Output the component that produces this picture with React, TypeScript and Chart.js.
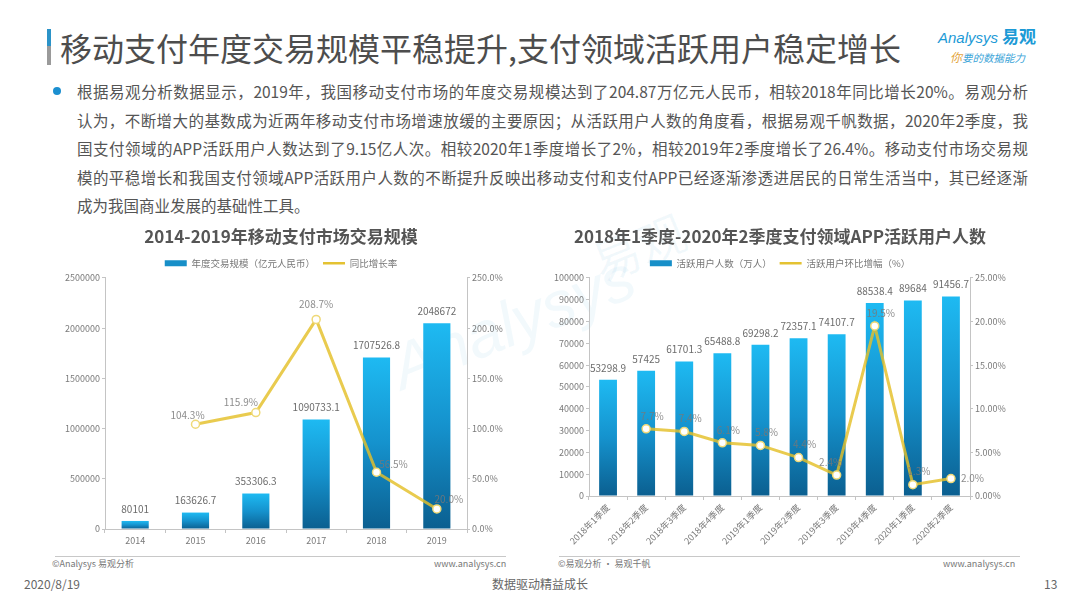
import React, { useEffect, useRef } from "react";
import { Chart, registerables } from "chart.js";

Chart.register(...registerables);

// ---- data: annual mobile payment volume ----
const years = ["2014", "2015", "2016", "2017", "2018", "2019"];
const volume = [80101, 163626.7, 353306.3, 1090733.1, 1707526.8, 2048672];
const volumeGrowth = [null, 104.3, 115.9, 208.7, 56.5, 20.0];

// ---- data: quarterly active users of payment apps ----
const quarters = [
  "2018年1季度",
  "2018年2季度",
  "2018年3季度",
  "2018年4季度",
  "2019年1季度",
  "2019年2季度",
  "2019年3季度",
  "2019年4季度",
  "2020年1季度",
  "2020年2季度",
];
const activeUsers = [53298.9, 57425, 61701.3, 65488.8, 69298.2, 72357.1, 74107.7, 88538.4, 89684, 91456.7];
const userGrowth = [null, 7.7, 7.4, 6.1, 5.8, 4.4, 2.4, 19.5, 1.3, 2.0];

// ---- axis ticks ----
const volumeAxis = { max: 2500000, step: 500000 };
const volumeGrowthAxis = { max: 250, step: 50 };
const usersAxis = { max: 100000, step: 10000 };
const userGrowthAxis = { max: 25, step: 5 };

const FONT = '"Noto Sans CJK SC", "Noto Sans", sans-serif';
const AXIS = "#c4c4c4";
const TICK = "#7a7a7a";
const LINE = "rgba(228, 192, 40, 0.82)";
const LEGEND_BAR = "#178fc8";

// vertical gradient for each bar, from its top down to the baseline
function barGradient(ctx: any) {
  const chart = ctx.chart;
  const scale = chart.scales && chart.scales.y;
  if (!scale || ctx.raw == null) return LEGEND_BAR;
  const top = scale.getPixelForValue(ctx.raw);
  const bottom = scale.getPixelForValue(0);
  if (!isFinite(top) || !isFinite(bottom) || bottom - top < 1) return LEGEND_BAR;
  const g = chart.ctx.createLinearGradient(0, top, 0, bottom);
  g.addColorStop(0, "#1ebaf2");
  g.addColorStop(0.5, "#1592cd");
  g.addColorStop(1, "#0b5f90");
  return g;
}

type Offset = (i: number) => [number, number, CanvasTextAlign];

// draws value labels above bars and next to line points
function makeValueLabels(barFmt: (v: number) => string, lineFmt: (v: number) => string, lineOffset: Offset) {
  return {
    id: "valueLabels",
    afterDatasetsDraw(chart: any) {
      const ctx = chart.ctx;
      ctx.save();
      ctx.textBaseline = "middle";
      chart.data.datasets.forEach((ds: any, di: number) => {
        const meta = chart.getDatasetMeta(di);
        meta.data.forEach((el: any, i: number) => {
          const v = ds.data[i];
          if (v == null) return;
          if (ds.type === "bar") {
            ctx.font = `10px ${FONT}`;
            ctx.fillStyle = "#6c6c6c";
            ctx.textAlign = "center";
            ctx.fillText(barFmt(v), el.x, el.y - 12);
          } else {
            const [dx, dy, align] = lineOffset(i);
            ctx.font = `10px ${FONT}`;
            ctx.fillStyle = "rgba(120,120,120,0.85)";
            ctx.textAlign = align;
            ctx.fillText(lineFmt(v), el.x + dx, el.y + dy);
          }
        });
      });
      ctx.restore();
    },
  };
}

function legendItems(barText: string, lineText: string) {
  return () => [
    {
      text: barText,
      fillStyle: LEGEND_BAR,
      strokeStyle: LEGEND_BAR,
      lineWidth: 0,
      pointStyle: "rect",
      datasetIndex: 0,
      hidden: false,
      fontColor: "#777",
    },
    {
      text: lineText,
      fillStyle: LINE,
      strokeStyle: "#e4c232",
      lineWidth: 2.5,
      pointStyle: "line",
      datasetIndex: 1,
      hidden: false,
      fontColor: "#777",
    },
  ];
}

function buildConfig(opts: {
  title: string;
  labels: string[];
  bars: number[];
  line: (number | null)[];
  barLabel: string;
  lineLabel: string;
  leftAxis: { max: number; step: number };
  rightAxis: { max: number; step: number };
  rightFmt: (v: number) => string;
  leftWidth: number;
  rightWidth: number;
  xHeight: number;
  rotate: number;
  categoryPercentage: number;
  plugin: any;
}) {
  const tickFont = { family: FONT, size: 9 };
  return {
    type: "bar",
    data: {
      labels: opts.labels,
      datasets: [
        {
          type: "bar",
          label: opts.barLabel,
          data: opts.bars,
          yAxisID: "y",
          backgroundColor: barGradient,
          barPercentage: 0.9,
          categoryPercentage: opts.categoryPercentage,
          order: 2,
        },
        {
          type: "line",
          label: opts.lineLabel,
          data: opts.line,
          yAxisID: "y1",
          borderColor: LINE,
          borderWidth: 3,
          pointRadius: 4,
          pointHoverRadius: 4,
          pointBackgroundColor: "#ffffff",
          pointBorderColor: "#efd978",
          pointBorderWidth: 1.5,
          tension: 0,
          order: 1,
        },
      ],
    },
    options: {
      animation: false,
      responsive: false,
      maintainAspectRatio: false,
      layout: { padding: 0 },
      plugins: {
        title: {
          display: true,
          text: opts.title,
          color: "#555",
          font: { family: FONT, size: 17, weight: "bold" },
          padding: { top: 6, bottom: 4 },
        },
        legend: {
          display: true,
          labels: {
            usePointStyle: true,
            pointStyleWidth: 22,
            boxHeight: 6,
            padding: 8,
            color: "#777",
            font: { family: FONT, size: 9.5 },
            generateLabels: legendItems(opts.barLabel, opts.lineLabel),
          },
        },
        tooltip: { enabled: false },
      },
      scales: {
        x: {
          grid: { display: true, drawOnChartArea: false, drawTicks: true, tickLength: 4, color: AXIS, offset: true },
          border: { display: true, color: AXIS },
          ticks: {
            color: TICK,
            font: tickFont,
            padding: 2,
            autoSkip: false,
            minRotation: opts.rotate,
            maxRotation: opts.rotate,
          },
          afterFit: (s: any) => {
            s.height = opts.xHeight;
          },
        },
        y: {
          position: "left",
          min: 0,
          max: opts.leftAxis.max,
          ticks: { stepSize: opts.leftAxis.step, color: TICK, font: tickFont, padding: 2, callback: (v: any) => String(v) },
          grid: { display: true, drawOnChartArea: false, drawTicks: true, tickLength: 3, color: AXIS },
          border: { display: true, color: AXIS },
          afterFit: (s: any) => {
            s.width = opts.leftWidth;
          },
        },
        y1: {
          position: "right",
          min: 0,
          max: opts.rightAxis.max,
          ticks: { stepSize: opts.rightAxis.step, color: TICK, font: tickFont, padding: 2, callback: (v: any) => opts.rightFmt(Number(v)) },
          grid: { display: true, drawOnChartArea: false, drawTicks: true, tickLength: 3, color: AXIS },
          border: { display: true, color: AXIS },
          afterFit: (s: any) => {
            s.width = opts.rightWidth;
          },
        },
      },
    },
    plugins: [opts.plugin],
  } as any;
}

function VolumeChart() {
  const ref = useRef<HTMLCanvasElement>(null);
  useEffect(() => {
    if (!ref.current) return;
    const offsets: Offset = (i) => {
      const table: [number, number, CanvasTextAlign][] = [
        [0, -10, "center"],
        [-8, -9, "center"],
        [-15, -10, "center"],
        [0, -15, "center"],
        [17, -8, "center"],
        [12, -10, "center"],
      ];
      return table[i];
    };
    const chart = new Chart(
      ref.current,
      buildConfig({
        title: "2014-2019年移动支付市场交易规模",
        labels: years,
        bars: volume,
        line: volumeGrowth,
        barLabel: "年度交易规模（亿元人民币）",
        lineLabel: "同比增长率",
        leftAxis: volumeAxis,
        rightAxis: volumeGrowthAxis,
        rightFmt: (v) => v.toFixed(1) + "%",
        leftWidth: 47,
        rightWidth: 37,
        xHeight: 25,
        rotate: 0,
        categoryPercentage: 0.5,
        plugin: makeValueLabels((v) => String(v), (v) => v.toFixed(1) + "%", offsets),
      })
    );
    return () => chart.destroy();
  }, []);
  return <canvas ref={ref} width={446} height={334} style={{ position: "absolute", left: 58, top: 220, width: 446, height: 334 }} />;
}

function UsersChart() {
  const ref = useRef<HTMLCanvasElement>(null);
  useEffect(() => {
    if (!ref.current) return;
    const offsets: Offset = (i) => {
      if (i === userGrowth.length - 1) return [10, 0, "left"];
      if (i === 6) return [-6, -13, "center"];
      return [6, -13, "center"];
    };
    const chart = new Chart(
      ref.current,
      buildConfig({
        title: "2018年1季度-2020年2季度支付领域APP活跃用户人数",
        labels: quarters,
        bars: activeUsers,
        line: userGrowth,
        barLabel: "活跃用户人数（万人）",
        lineLabel: "活跃用户环比增幅（%）",
        leftAxis: usersAxis,
        rightAxis: userGrowthAxis,
        rightFmt: (v) => v.toFixed(2) + "%",
        leftWidth: 49,
        rightWidth: 50,
        xHeight: 58,
        rotate: 45,
        categoryPercentage: 0.52,
        plugin: makeValueLabels((v) => String(v), (v) => v.toFixed(1) + "%", offsets),
      })
    );
    return () => chart.destroy();
  }, []);
  return <canvas ref={ref} width={480} height={334} style={{ position: "absolute", left: 540, top: 220, width: 480, height: 334 }} />;
}

const paragraph = [
  "根据易观分析数据显示，2019年，我国移动支付市场的年度交易规模达到了204.87万亿元人民币，相较2018年同比增长20%。易观分析",
  "认为，不断增大的基数成为近两年移动支付市场增速放缓的主要原因；从活跃用户人数的角度看，根据易观千帆数据，2020年2季度，我",
  "国支付领域的APP活跃用户人数达到了9.15亿人次。相较2020年1季度增长了2%，相较2019年2季度增长了26.4%。移动支付市场交易规",
  "模的平稳增长和我国支付领域APP活跃用户人数的不断提升反映出移动支付和支付APP已经逐渐渗透进居民的日常生活当中，其已经逐渐",
  "成为我国商业发展的基础性工具。",
];

const abs = (s: React.CSSProperties): React.CSSProperties => ({ position: "absolute", ...s });

export default function App() {
  return (
    <div
      style={{
        position: "absolute",
        left: 0,
        top: 0,
        width: 1080,
        height: 608,
        overflow: "hidden",
        background: "#ffffff",
        fontFamily: FONT,
        color: "#555",
      }}
    >
      {/* watermark */}
      <div
        style={abs({
          left: 385,
          top: 285,
          fontSize: 64,
          fontStyle: "italic",
          color: "rgba(40,150,205,0.06)",
          transform: "rotate(-22deg)",
          whiteSpace: "nowrap",
          fontFamily: '"Liberation Sans", sans-serif',
        })}
      >
        Analysys
      </div>
      <div style={abs({ left: 590, top: 210, fontSize: 48, color: "rgba(40,150,205,0.06)", transform: "rotate(-22deg)", whiteSpace: "nowrap" })}>
        易观
      </div>

      {/* title bar */}
      <div style={abs({ left: 47, top: 29, width: 4, height: 17, background: "#2b93c8" })} />
      <div style={abs({ left: 47, top: 46, width: 4, height: 19, background: "#9a9a9a" })} />
      <div style={abs({ left: 60, top: 25, fontSize: 32, lineHeight: "44px", color: "#4d4d4d", whiteSpace: "nowrap" })}>
        移动支付年度交易规模平稳提升,支付领域活跃用户稳定增长
      </div>

      {/* brand */}
      <div style={abs({ left: 938, top: 25, whiteSpace: "nowrap", color: "#1c9ad6", lineHeight: "22px" })}>
        <span style={{ fontFamily: '"Liberation Sans", sans-serif', fontStyle: "italic", fontSize: 15 }}>Analysys</span>
        <span style={{ fontSize: 17, fontWeight: "bold", marginLeft: 4 }}>易观</span>
      </div>
      <div style={abs({ left: 950, top: 50, whiteSpace: "nowrap", fontSize: 10.5, fontStyle: "italic", color: "#3aa4d8", lineHeight: "14px" })}>
        <span style={{ color: "#e3a43c", fontSize: 12 }}>你</span>要的数据能力
      </div>

      {/* bullet text */}
      <div style={abs({ left: 53, top: 87, width: 8, height: 8, borderRadius: 4, background: "#1b8fd0" })} />
      {paragraph.map((line, i) => (
        <div
          key={i}
          style={abs({
            left: 77,
            top: 78 + i * 28.6,
            width: i < paragraph.length - 1 ? 951 : undefined,
            fontSize: 15.5,
            lineHeight: "26px",
            color: "#555",
            whiteSpace: "nowrap",
            textAlign: i < paragraph.length - 1 ? "justify" : "left",
            textAlignLast: i < paragraph.length - 1 ? "justify" : "left",
          } as React.CSSProperties)}
        >
          {line}
        </div>
      ))}

      <VolumeChart />
      <UsersChart />

      {/* chart sources */}
      <div style={abs({ left: 55, top: 556, width: 451, height: 1, background: "#c8c8c8" })} />
      <div style={abs({ left: 52, top: 557, fontSize: 9, color: "#777", lineHeight: "14px", whiteSpace: "nowrap" })}>©Analysys 易观分析</div>
      <div style={abs({ left: 434, top: 557, fontSize: 9, color: "#777", lineHeight: "14px", whiteSpace: "nowrap" })}>www.analysys.cn</div>

      <div style={abs({ left: 559, top: 556, width: 461, height: 1, background: "#c8c8c8" })} />
      <div style={abs({ left: 558, top: 557, fontSize: 9, color: "#777", lineHeight: "14px", whiteSpace: "nowrap" })}>©易观分析 · 易观千帆</div>
      <div style={abs({ left: 943, top: 557, fontSize: 9, color: "#777", lineHeight: "14px", whiteSpace: "nowrap" })}>www.analysys.cn</div>

      {/* slide footer */}
      <div style={abs({ left: 24, top: 576, fontSize: 12, color: "#666", lineHeight: "16px" })}>2020/8/19</div>
      <div style={abs({ left: 0, top: 576, width: 1080, textAlign: "center", fontSize: 12, color: "#666", lineHeight: "16px" })}>数据驱动精益成长</div>
      <div style={abs({ left: 1044, top: 576, fontSize: 12, color: "#666", lineHeight: "16px" })}>13</div>
    </div>
  );
}
